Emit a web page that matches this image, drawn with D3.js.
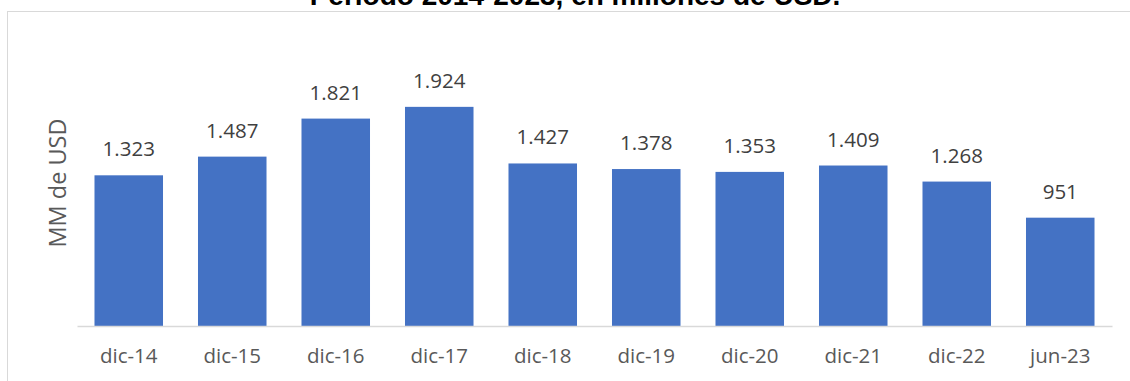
<!DOCTYPE html>
<html>
<head>
<meta charset="utf-8">
<script src="https://cdn.jsdelivr.net/npm/d3@7"></script>
<style>
  html, body { margin: 0; padding: 0; background: #fff; }
  #drawing { width: 1130px; height: 381px; overflow: hidden; }
</style>
</head>
<body>
<div id="drawing"></div>
<script>
// Data
const periods = ["dic-14", "dic-15", "dic-16", "dic-17", "dic-18", "dic-19", "dic-20", "dic-21", "dic-22", "jun-23"];
const values = [1323, 1487, 1821, 1924, 1427, 1378, 1353, 1409, 1268, 951];
const titleText = "Período 2014-2023, en millones de USD.";
const yTitle = "MM de USD";

// SVG dimensions
const svgWidth = 1130;
const svgHeight = 381;

const svg = d3.select("#drawing")
  .append("svg")
  .attr("width", svgWidth)
  .attr("height", svgHeight);

// chart frame (runs off the right / bottom edge)
svg.append("rect")
  .attr("x", 7.5)
  .attr("y", 11.5)
  .attr("width", 1140)
  .attr("height", 400)
  .attr("fill", "none")
  .attr("stroke", "#d9d9d9");

// title, cut off at the top
svg.append("text")
  .attr("x", 575)
  .attr("y", 5)
  .attr("text-anchor", "middle")
  .style("font-family", "'Liberation Sans', Arial, sans-serif")
  .style("font-weight", "bold")
  .style("font-size", "28px")
  .style("fill", "#000")
  .text(titleText);

// Scales
const x = d3.scaleBand()
  .domain(periods)
  .range([77, 1112])
  .paddingInner(0.338)
  .paddingOuter(0.169);

const y = d3.scaleLinear()
  .domain([0, 2500])
  .range([326, 41.25]);

const fmt = d3.formatLocale({decimal: ",", thousands: ".", grouping: [3], currency: ["", ""]}).format(",d");

// Bars
svg.selectAll("rect.bar")
  .data(values)
  .enter()
  .append("rect")
  .attr("class", "bar")
  .attr("x", (d, i) => x(periods[i]))
  .attr("y", d => y(d))
  .attr("width", x.bandwidth())
  .attr("height", d => y(0) - y(d))
  .style("fill", "#4472c4");

// Value labels
svg.selectAll("text.val")
  .data(values)
  .enter()
  .append("text")
  .attr("class", "val")
  .attr("x", (d, i) => x(periods[i]) + x.bandwidth() / 2)
  .attr("y", d => y(d) - 19)
  .attr("text-anchor", "middle")
  .style("font-family", "'Open Sans', sans-serif")
  .style("font-size", "20.5px")
  .style("fill", "#404040")
  .text(d => fmt(d));

// X axis
const xAxis = svg.append("g")
  .attr("transform", `translate(0,${y(0)})`)
  .call(d3.axisBottom(x).tickSize(0).tickPadding(0).tickSizeOuter(0));

xAxis.select(".domain")
  .attr("stroke", "#d9d9d9")
  .attr("stroke-width", 1.5);

xAxis.selectAll(".tick text")
  .attr("dy", null)
  .attr("y", 37)
  .style("font-family", "'Open Sans', sans-serif")
  .style("font-size", "20.5px")
  .style("fill", "#595959");

// Y axis title
svg.append("text")
  .attr("transform", "translate(66,183) rotate(-90)")
  .attr("text-anchor", "middle")
  .style("font-family", "'Open Sans', sans-serif")
  .style("font-size", "23.5px")
  .style("fill", "#595959")
  .text(yTitle);
</script>
</body>
</html>
